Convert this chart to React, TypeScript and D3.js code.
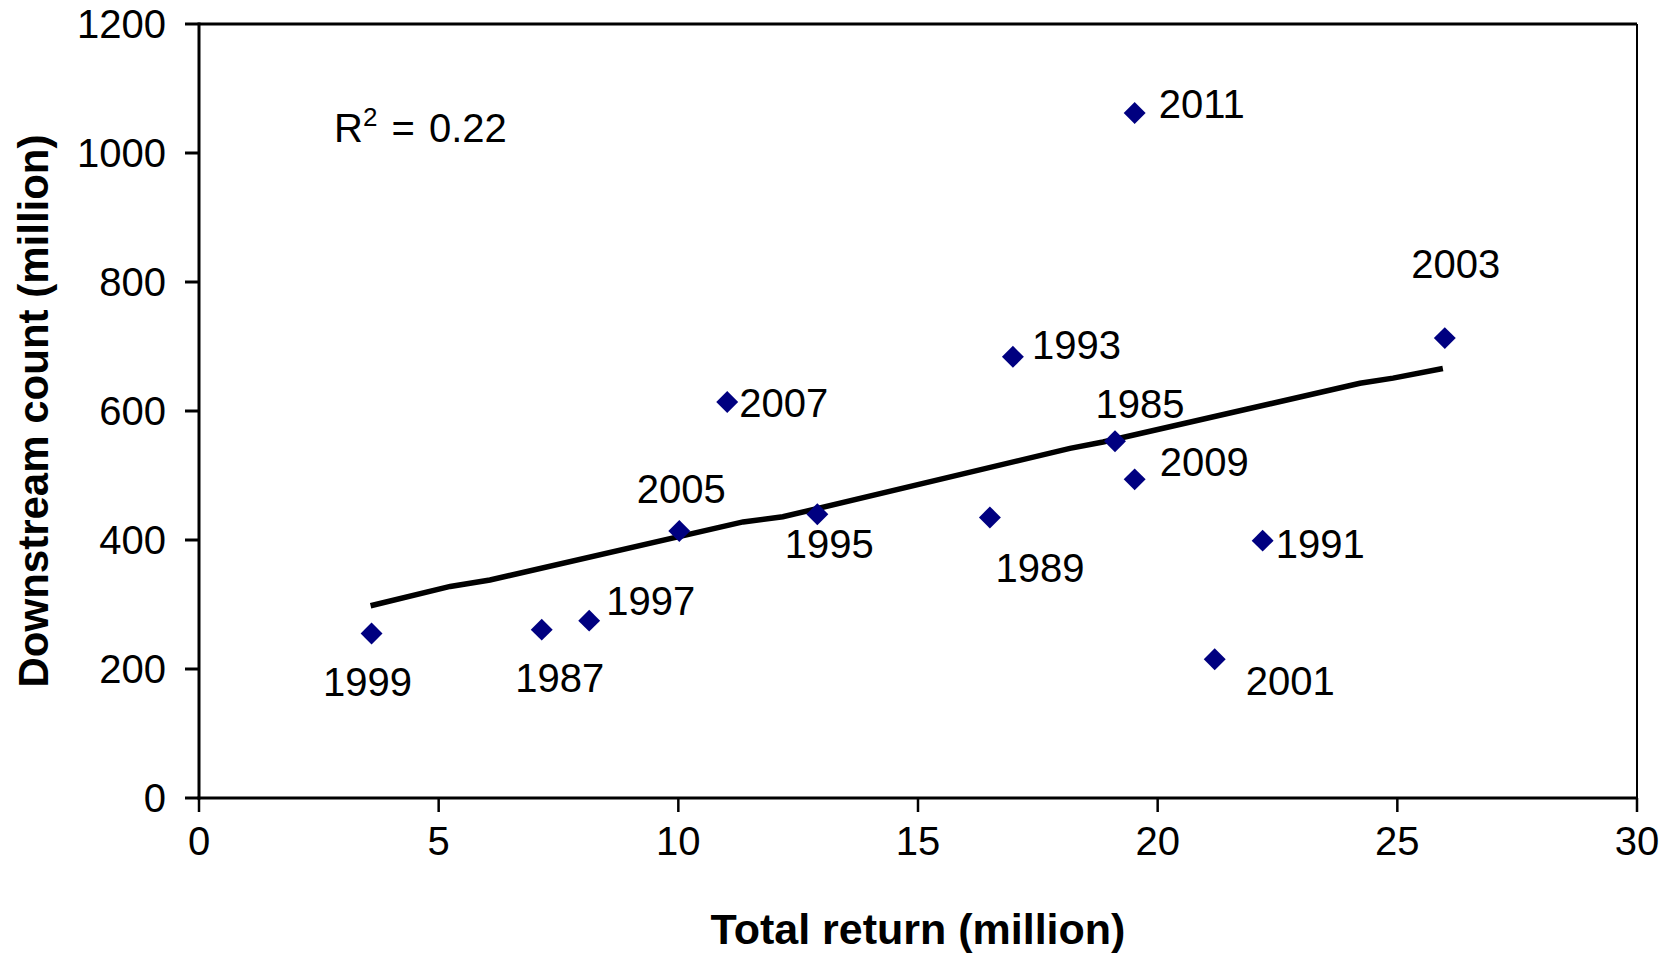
import React from "react";
import * as d3 from "d3";

const years = ["1999", "1987", "1997", "2005", "2007", "1995", "1989", "1993", "1985", "2009", "2011", "2001", "1991", "2003"];
const totalReturn = [3.6, 7.15, 8.14, 10.02, 11.02, 12.9, 16.5, 16.98, 19.11, 19.52, 19.52, 21.19, 22.19, 25.99];
const downstream = [255, 261, 275, 414, 614, 440, 435, 684, 553, 494, 1062, 215, 399, 713];

const trendX = [3.58, 5.24, 6.07, 11.35, 12.18, 18.17, 18.86, 24.22, 24.91, 25.95];
const trendY = [298, 328, 338, 428, 436, 542, 552, 643, 651, 666];

const xTicks = [0, 5, 10, 15, 20, 25, 30];
const yTicks = [0, 200, 400, 600, 800, 1000, 1200];

const xTitle = "Total return (million)";
const yTitle = "Downstream count (million)";
const r2Text = "0.22";

// label layout: [anchor, dx, dy(baseline)] in pixels
const labelLayout: Record<string, [string, number, number]> = {
  "1999": ["middle", -4, 62],
  "1987": ["middle", 18, 62],
  "1997": ["start", 17, -6],
  "2005": ["middle", 2, -28],
  "2007": ["start", 12, 15],
  "1995": ["middle", 12, 44],
  "1989": ["middle", 50, 65],
  "1993": ["start", 19, 2],
  "1985": ["middle", 25, -23],
  "2009": ["start", 25, -3],
  "2011": ["start", 24, 5],
  "2001": ["start", 31, 36],
  "1991": ["start", 13, 17],
  "2003": ["middle", 11, -60],
};

const W = 1675;
const H = 955;
const left = 199;
const right = 1637;
const top = 24;
const bottom = 798;
const FONT = "'Liberation Sans', Arial, sans-serif";
const FS = 40;

export default function App() {
  const x = d3.scaleLinear().domain([0, 30]).range([left, right]);
  const y = d3.scaleLinear().domain([0, 1200]).range([bottom, top]);

  const trendPts: [number, number][] = trendX.map((v, i) => [x(v), y(trendY[i])]);
  const line = d3.line()(trendPts) || "";
  const diamond = d3.symbol().type(d3.symbolSquare).size(240)() || "";

  return (
    <svg
      width={W}
      height={H}
      style={{ position: "absolute", left: 0, top: 0, background: "#fff" }}
      fontFamily={FONT}
    >
      <rect x={0} y={0} width={W} height={H} fill="#fff" />
      {/* frame */}
      <line x1={left} x2={right} y1={top} y2={top} stroke="#000" strokeWidth={3} />
      <line x1={right} x2={right} y1={top} y2={bottom} stroke="#000" strokeWidth={2} />
      <line x1={left} x2={left} y1={top - 1.5} y2={bottom + 1.5} stroke="#000" strokeWidth={3} />
      <line x1={left - 1.5} x2={right} y1={bottom} y2={bottom} stroke="#000" strokeWidth={3} />

      {/* y ticks */}
      {yTicks.map((t) => (
        <g key={"y" + t}>
          <line x1={left - 14} x2={left} y1={y(t)} y2={y(t)} stroke="#000" strokeWidth={3} />
          <text x={left - 33} y={y(t)} dy="0.36em" textAnchor="end" fontSize={FS} fill="#000">
            {t}
          </text>
        </g>
      ))}
      {/* x ticks */}
      {xTicks.map((t) => (
        <g key={"x" + t}>
          <line x1={x(t)} x2={x(t)} y1={bottom} y2={bottom + 14} stroke="#000" strokeWidth={2.5} />
          <text x={x(t)} y={bottom + 57} textAnchor="middle" fontSize={FS} fill="#000">
            {t}
          </text>
        </g>
      ))}

      {/* trend line */}
      <path d={line} fill="none" stroke="#000" strokeWidth={5.5} />

      {/* markers */}
      {years.map((yr, i) => (
        <path
          key={"m" + yr}
          d={diamond}
          transform={`translate(${x(totalReturn[i])},${y(downstream[i])}) rotate(45)`}
          fill="#000080"
        />
      ))}

      {/* labels */}
      {years.map((yr, i) => {
        const [anchor, dx, dy] = labelLayout[yr];
        return (
          <text
            key={"l" + yr}
            x={x(totalReturn[i]) + dx}
            y={y(downstream[i]) + dy}
            textAnchor={anchor as any}
            fontSize={FS}
            fill="#000"
          >
            {yr}
          </text>
        );
      })}

      {/* R2 */}
      <text x={334} y={142} fontSize={FS} fill="#000">
        R<tspan fontSize={26} dy={-16}>2</tspan>
        <tspan dy={16} dx={3}>{" = "}</tspan>
        <tspan dx={3}>{r2Text}</tspan>
      </text>

      {/* axis titles */}
      <text
        x={(left + right) / 2}
        y={944}
        textAnchor="middle"
        fontSize={43}
        fontWeight="bold"
        fill="#000"
      >
        {xTitle}
      </text>
      <text
        transform={`translate(48,${(top + bottom) / 2}) rotate(-90)`}
        textAnchor="middle"
        fontSize={42}
        fontWeight="bold"
        fill="#000"
      >
        {yTitle}
      </text>
    </svg>
  );
}
